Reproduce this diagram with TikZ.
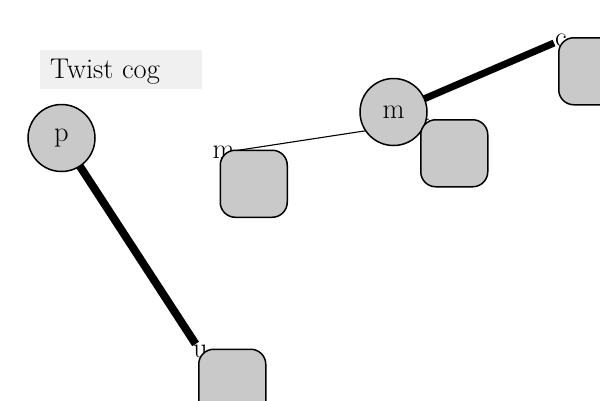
\documentclass[tikz,border=0pt]{standalone}
\begin{document}
\begin{tikzpicture}[x=1pt,y=-1pt,
  txt/.style={font=\fontsize{28.5}{33}\selectfont},
  cog/.style={circle,draw,line width=1.5pt,fill=black!21,minimum size=67pt,inner sep=0pt,txt},
  pad/.style={draw,line width=1.5pt,fill=black!21,rounded corners=15pt,minimum size=67pt,inner sep=0pt,anchor=north west},
  tag/.style={inner sep=1pt,txt},
  link/.style={draw,black}
]
\useasboundingbox (0,0) rectangle (600,400);

% title
\node[fill=black!6,minimum width=162pt,minimum height=39pt,inner sep=0pt,anchor=north west] (title) at (40,50) {};
\node[txt,anchor=base west,inner sep=0pt] (titletext) at (50,78) {Twist cog};

% corner tags of the pads
\node[tag] (tm) at (223.5,152.5) {m};
\node[tag] (tk) at (423,122) {k};
\node[tag] (tc) at (561,40) {c};
\node[tag] (tu) at (200.5,351.5) {u};

% cogs
\coordinate (pc) at (61.5,138);
\coordinate (mc) at (393.5,112);

% links
\draw[link,line width=1.1pt] (tk) -- (tm);
\draw[link,line width=8pt] (pc) -- (tu);
\draw[link,line width=7pt] (mc) -- (tc);

\node[cog] (p) at (pc) {p};
\node[cog] (m) at (mc) {m};

% pads
\node[pad] (pad1) at (219.5,149.5) {};
\node[pad] (pad2) at (420,119) {};
\node[pad] (pad3) at (558,37) {};
\node[pad] (pad4) at (198,348.5) {};
\end{tikzpicture}
\end{document}
